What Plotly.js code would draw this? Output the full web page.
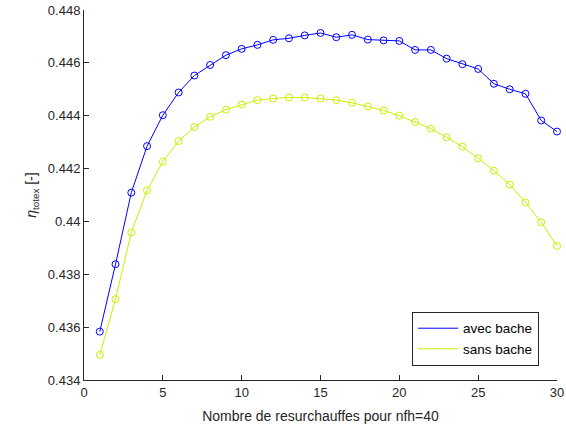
<!DOCTYPE html>
<html>
<head>
<meta charset="utf-8">
<script src="https://cdn.plot.ly/plotly-3.0.1.min.js"></script>
<style>html,body{margin:0;padding:0;background:#fff;}#chart{width:566px;height:432px;}</style>
</head>
<body>
<div id="chart"></div>
<script>
const nbResurchauffes = [1,2,3,4,5,6,7,8,9,10,11,12,13,14,15,16,17,18,19,20,21,22,23,24,25,26,27,28,29,30];
const avecBache = [0.43583,0.43838,0.44109,0.44285,0.44402,0.44488,0.44552,0.44592,0.44629,0.44653,
                   0.44668,0.44687,0.44693,0.44704,0.44713,0.44697,0.44706,0.44688,0.44685,0.44683,
                   0.44649,0.44649,0.44616,0.44595,0.44577,0.44521,0.44500,0.44483,0.44382,0.44340];
const sansBache = [0.43495,0.43706,0.43958,0.44118,0.44226,0.44304,0.44357,0.44396,0.44423,0.44442,
                   0.44459,0.44465,0.44469,0.44469,0.44465,0.44459,0.44449,0.44435,0.44420,0.44400,
                   0.44376,0.44351,0.44318,0.44283,0.44239,0.44192,0.44140,0.44072,0.43997,0.43907];
const seriesNames = ['avec bache','sans bache'];
const xTickVals = [0,5,10,15,20,25,30];
const yTickVals = [0.434,0.436,0.438,0.44,0.442,0.444,0.446,0.448];
const yTickText = ['0.434','0.436','0.438','0.44','0.442','0.444','0.446','0.448'];

const blue = '#0000ff';
const yellow = '#ccf000';

const traces = [
  {x: nbResurchauffes, y: avecBache, mode: 'lines+markers', showlegend: false, cliponaxis: false,
   line: {color: blue, width: 1}, marker: {symbol: 'circle-open', size: 7, color: blue, line: {width: 1}}},
  {x: nbResurchauffes, y: sansBache, mode: 'lines+markers', showlegend: false, cliponaxis: false,
   line: {color: yellow, width: 1}, marker: {symbol: 'circle-open', size: 7, color: yellow, line: {width: 1}}},
  {x: [null], y: [null], mode: 'lines', name: seriesNames[0], line: {color: blue, width: 1}},
  {x: [null], y: [null], mode: 'lines', name: seriesNames[1], line: {color: yellow, width: 1}}
];

const axisColor = '#262626';
const layout = {
  width: 566, height: 432,
  margin: {l: 84, r: 9, t: 10, b: 52},
  paper_bgcolor: '#fff', plot_bgcolor: '#fff',
  font: {family: 'Liberation Sans, Arial, sans-serif', size: 13, color: axisColor},
  xaxis: {
    range: [0, 30], tickvals: xTickVals, ticks: 'inside', ticklen: 5, tickcolor: axisColor,
    showline: true, linecolor: axisColor, linewidth: 1, showgrid: false, zeroline: false,
    tickfont: {size: 13, color: axisColor},
    title: {text: 'Nombre de resurchauffes pour nfh=40', font: {size: 14, color: axisColor}, standoff: 12}
  },
  yaxis: {
    range: [0.434, 0.448], tickvals: yTickVals, ticktext: yTickText, ticks: 'inside', ticklen: 5, tickcolor: axisColor,
    showline: true, linecolor: axisColor, linewidth: 1, showgrid: false, zeroline: false,
    tickfont: {size: 13, color: axisColor},
    title: {text: '<i>η</i><sub>totex</sub> [-]', font: {size: 14, color: axisColor}, standoff: 7}
  },
  legend: {
    x: 0.962, y: 0.038, xanchor: 'right', yanchor: 'bottom',
    bgcolor: '#fff', bordercolor: axisColor, borderwidth: 1,
    font: {size: 13.5, color: '#000'}, tracegroupgap: 0, itemwidth: 40
  }
};

Plotly.newPlot('chart', traces, layout, {staticPlot: true, displayModeBar: false});
</script>
</body>
</html>
